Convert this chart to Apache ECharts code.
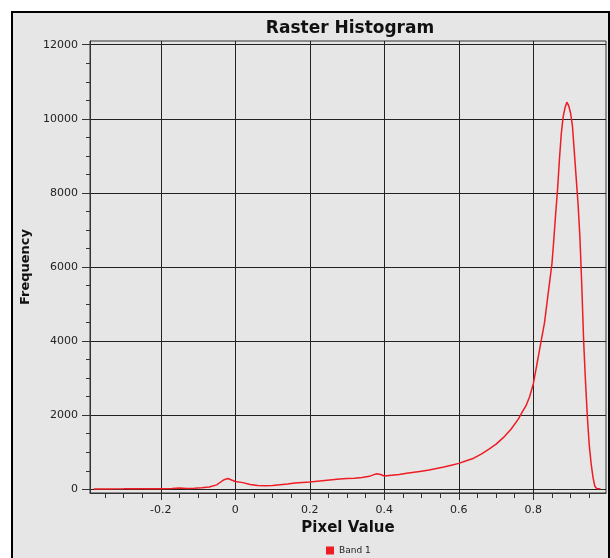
<!DOCTYPE html>
<html>
<head>
<meta charset="utf-8">
<script src="https://cdn.jsdelivr.net/npm/echarts@6/dist/echarts.min.js"></script>
<style>
  html, body { margin: 0; padding: 0; background: #ffffff; }
  #chart { width: 610px; height: 558px; }
</style>
</head>
<body>
<div id="chart"></div>
<script>
// ---- data ----
const pixelValues = [
  -0.38, -0.35, -0.30, -0.25, -0.20, -0.17, -0.15, -0.13, -0.11, -0.09,
  -0.07, -0.05, -0.04, -0.03, -0.02, -0.01, 0.00, 0.02, 0.04, 0.06,
  0.08, 0.10, 0.12, 0.14, 0.16, 0.18, 0.20, 0.22, 0.24, 0.26,
  0.28, 0.30, 0.32, 0.34, 0.36, 0.37, 0.38, 0.39, 0.40, 0.42,
  0.44, 0.46, 0.48, 0.50, 0.52, 0.54, 0.56, 0.58, 0.60, 0.62,
  0.64, 0.66, 0.68, 0.70, 0.72, 0.74, 0.76, 0.77, 0.78, 0.79,
  0.80, 0.81, 0.82, 0.83, 0.84, 0.845, 0.85, 0.855, 0.86, 0.865,
  0.87, 0.875, 0.88, 0.885, 0.89, 0.895, 0.90, 0.905, 0.91, 0.915,
  0.92, 0.925, 0.93, 0.935, 0.94, 0.945, 0.95, 0.955, 0.96, 0.965,
  0.97, 0.975, 0.98
];
const frequencies = [
  10, 10, 12, 15, 15, 20, 35, 20, 25, 40,
  60, 120, 190, 260, 290, 250, 210, 180, 130, 100,
  95, 105, 125, 145, 170, 185, 200, 220, 240, 260,
  275, 290, 300, 320, 350, 390, 420, 400, 360, 380,
  400, 430, 460, 490, 520, 560, 600, 650, 700, 770,
  840, 950, 1080, 1220, 1400, 1620, 1900, 2080, 2250, 2500,
  2850, 3400, 3950, 4500, 5300, 5700, 6100, 6750, 7450, 8100,
  8900, 9600, 10050, 10300, 10450, 10350, 10150, 9800, 9100, 8400,
  7700, 6800, 5500, 4000, 2900, 1950, 1200, 700, 330, 80,
  20, 15, 15
];
const seriesName = 'Band 1';
const xMajorTicks = [-0.2, 0, 0.2, 0.4, 0.6, 0.8];
const xMinorTicks = [-0.35, -0.3, -0.25, -0.15, -0.1, -0.05, 0.05, 0.1, 0.15, 0.25, 0.3, 0.35,
                     0.45, 0.5, 0.55, 0.65, 0.7, 0.75, 0.85, 0.9, 0.95];
const yMajorTicks = [0, 2000, 4000, 6000, 8000, 10000, 12000];
const yMinorTicks = [500, 1000, 1500, 2500, 3000, 3500, 4500, 5000, 5500, 6500, 7000, 7500,
                     8500, 9000, 9500, 10500, 11000, 11500];
const xRange = [-0.39, 0.995];
const yRange = [-100, 12100];

// ---- chart ----
const chart = echarts.init(document.getElementById('chart'), null, { renderer: 'canvas' });
const FONT = 'DejaVu Sans';
const lineData = pixelValues.map((v, i) => [v, frequencies[i]]);

const fmtX = v => (Math.abs(v) < 1e-9 ? '0' : String(Math.round(v * 10) / 10));
const fmtY = v => String(Math.round(v));

chart.setOption({
  animation: false,
  backgroundColor: '#ffffff',
  graphic: [{
    type: 'rect',
    z: -100,
    shape: { x: 12, y: 12, width: 597, height: 560 },
    style: { fill: '#e6e6e6', stroke: '#000000', lineWidth: 2 }
  }],
  title: {
    text: 'Raster Histogram',
    left: 345,
    textAlign: 'center',
    top: 15,
    textStyle: { fontFamily: FONT, fontSize: 17, fontWeight: 'bold', color: '#111' }
  },
  legend: {
    data: [seriesName],
    left: 321,
    top: 541,
    icon: 'rect',
    itemWidth: 8,
    itemHeight: 8,
    itemGap: 4,
    textStyle: { fontFamily: FONT, fontSize: 9, color: '#222' }
  },
  grid: {
    left: 90, right: 4, top: 41, bottom: 65,
    show: true, borderColor: '#333', borderWidth: 1, backgroundColor: 'transparent'
  },
  xAxis: [{
    type: 'value',
    position: 'bottom',
    min: xRange[0], max: xRange[1],
    name: 'Pixel Value',
    nameLocation: 'middle',
    nameGap: 26,
    nameTextStyle: { fontFamily: FONT, fontSize: 15, fontWeight: 'bold', color: '#111' },
    axisLine: { show: true, onZero: false, lineStyle: { color: '#333', width: 1 } },
    axisTick: { show: true, customValues: xMajorTicks, length: 7, lineStyle: { color: '#333' } },
    axisLabel: { customValues: xMajorTicks, margin: 12, formatter: fmtX,
                 fontFamily: FONT, fontSize: 11, color: '#222' },
    splitLine: { show: true, lineStyle: { color: '#222', width: 1 } }
  }, {
    type: 'value',
    position: 'bottom',
    min: xRange[0], max: xRange[1],
    axisLine: { show: false, onZero: false },
    axisTick: { show: true, customValues: xMinorTicks, length: 5, lineStyle: { color: '#333' } },
    axisLabel: { show: false },
    splitLine: { show: false }
  }],
  yAxis: [{
    type: 'value',
    position: 'left',
    min: yRange[0], max: yRange[1],
    name: 'Frequency',
    nameLocation: 'middle',
    nameGap: 42,
    nameTextStyle: { fontFamily: FONT, fontSize: 13, fontWeight: 'bold', color: '#111' },
    axisLine: { show: true, onZero: false, lineStyle: { color: '#333', width: 1 } },
    axisTick: { show: true, customValues: yMajorTicks, length: 8, lineStyle: { color: '#333' } },
    axisLabel: { customValues: yMajorTicks, margin: 12, formatter: fmtY,
                 fontFamily: FONT, fontSize: 11, color: '#222' },
    splitLine: { show: true, lineStyle: { color: '#222', width: 1 } }
  }, {
    type: 'value',
    position: 'left',
    min: yRange[0], max: yRange[1],
    axisLine: { show: false, onZero: false },
    axisTick: { show: true, customValues: yMinorTicks, length: 4, lineStyle: { color: '#333' } },
    axisLabel: { show: false },
    splitLine: { show: false }
  }],
  series: [{
    name: seriesName,
    type: 'line',
    xAxisIndex: 0,
    yAxisIndex: 0,
    data: lineData,
    showSymbol: false,
    symbol: 'none',
    itemStyle: { color: '#ee1c24' },
    lineStyle: { color: '#ee1c24', width: 1.5 }
  }]
});
</script>
</body>
</html>
